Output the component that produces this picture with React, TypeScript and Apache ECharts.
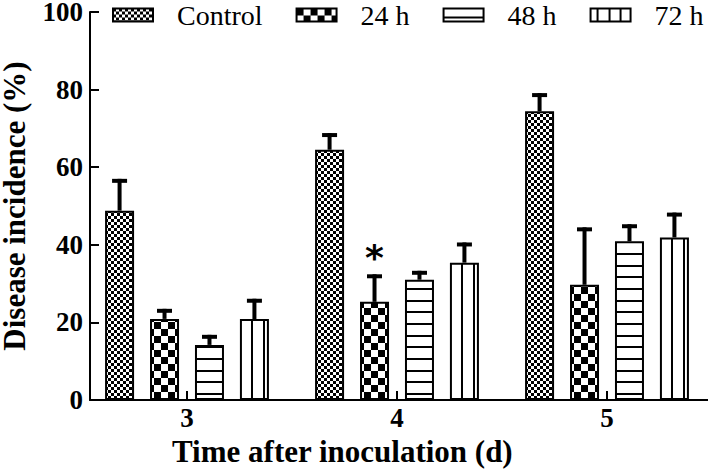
import React, { useEffect, useRef } from 'react';
import * as echarts from 'echarts';

const categories = ['3', '4', '5'];
const seriesNames = ['Control', '24 h', '48 h', '72 h'];
const controlMean = [48.8, 64.5, 74.4];
const controlSD = [8.2, 4.3, 4.7];
const h24Mean = [20.9, 25.3, 29.7];
const h24SD = [2.6, 7.1, 14.8];
const h48Mean = [14.2, 31.0, 40.9];
const h48SD = [2.6, 2.3, 4.4];
const h72Mean = [20.9, 35.4, 41.9];
const h72SD = [5.2, 5.2, 6.4];
const h24Sig = ['', '*', ''];
const yTicks = { min: 0, max: 100, interval: 20 };
const xTitle = 'Time after inoculation (d)';
const yTitle = 'Disease incidence (%)';

const FONT = '"Liberation Serif", "Times New Roman", serif';
const BAR_W = 29;
const GAP_RATIO = 0.55;

function makePattern(w: number, h: number, draw: (ctx: CanvasRenderingContext2D) => void) {
  const c = document.createElement('canvas');
  c.width = w;
  c.height = h;
  const ctx = c.getContext('2d')!;
  ctx.fillStyle = '#ffffff';
  ctx.fillRect(0, 0, w, h);
  ctx.fillStyle = '#000000';
  draw(ctx);
  return { image: c, repeat: 'repeat', imageWidth: w, imageHeight: h } as any;
}

export default function App() {
  const ref = useRef<HTMLDivElement>(null);
  useEffect(() => {
    if (!ref.current) return;
    const chart = echarts.init(ref.current, undefined, { renderer: 'svg' });

    const patterns = [
      makePattern(6, 6, (c) => { c.fillRect(0, 0, 3, 3); c.fillRect(3, 3, 3, 3); }),
      makePattern(14, 14, (c) => { c.fillRect(0, 0, 7, 7); c.fillRect(7, 7, 7, 7); }),
      makePattern(4, 35, (c) => { c.fillRect(0, 8, 4, 2); c.fillRect(0, 20, 4, 2); c.fillRect(0, 31, 4, 2); }),
      makePattern(35, 4, (c) => { c.fillRect(6, 0, 2, 4); c.fillRect(18, 0, 2, 4); c.fillRect(29, 0, 2, 4); }),
    ];
    const means = [controlMean, h24Mean, h48Mean, h72Mean];
    const sds = [controlSD, h24SD, h48SD, h72SD];
    const sigs = [['', '', ''], h24Sig, ['', '', ''], ['', '', '']];

    const records: { k: number; i: number; m: number; sd: number; sig: string }[] = [];
    means.forEach((arr, k) => arr.forEach((m, i) => records.push({ k, i, m, sd: sds[k][i], sig: sigs[k][i] })));

    const barSeries = seriesNames.map((name, k) => ({
      name,
      type: 'bar',
      xAxisIndex: 0,
      yAxisIndex: 0,
      barWidth: BAR_W,
      barGap: GAP_RATIO * 100 + '%',
      data: means[k],
      itemStyle: { color: patterns[k], borderColor: '#000', borderWidth: 2 },
      z: 2,
    }));

    const step = BAR_W * (1 + GAP_RATIO);

    const option: any = {
      animation: false,
      backgroundColor: '#ffffff',
      textStyle: { fontFamily: FONT, color: '#000' },
      title: {
        text: xTitle,
        left: 172,
        top: 434,
        padding: 0,
        textStyle: { fontFamily: FONT, fontWeight: 'bold', fontSize: 31, lineHeight: 34, color: '#000' },
      },
      legend: {
        data: seriesNames,
        left: 112,
        top: 1,
        padding: 0,
        icon: 'rect',
        itemWidth: 40,
        itemHeight: 13,
        itemGap: 33,
        textStyle: { fontFamily: FONT, fontSize: 28, lineHeight: 18, color: '#000', padding: [0, 0, 0, 19] },
      },
      grid: [
        { left: 82, width: 630, top: 12, height: 388, outerBoundsMode: 'none', containLabel: false },
        { left: 90, right: 0, top: 12, height: 388, outerBoundsMode: 'none', containLabel: false },
      ],
      xAxis: [
        {
          type: 'category',
          gridIndex: 0,
          data: categories,
          axisLine: { show: false },
          axisTick: { show: true, alignWithLabel: true, inside: true, length: 9, lineStyle: { width: 2, color: '#000' } },
          axisLabel: { margin: 7, fontFamily: FONT, fontWeight: 'bold', fontSize: 27, lineHeight: 22, color: '#000' },
          splitLine: { show: false },
        },
        {
          type: 'value',
          gridIndex: 1,
          min: 0,
          max: 1,
          axisLine: { show: true, lineStyle: { width: 2, color: '#000' } },
          axisTick: { show: false },
          axisLabel: { show: false },
          splitLine: { show: false },
        },
      ],
      yAxis: [
        {
          type: 'value',
          gridIndex: 0,
          min: yTicks.min,
          max: yTicks.max,
          interval: yTicks.interval,
          offset: -8,
          name: yTitle,
          nameLocation: 'middle',
          nameRotate: 90,
          nameGap: 63,
          nameTextStyle: { fontFamily: FONT, fontWeight: 'bold', fontSize: 31, lineHeight: 26, color: '#000' },
          axisLine: { show: true, lineStyle: { width: 2, color: '#000' } },
          axisTick: { show: true, inside: true, length: 9, lineStyle: { width: 2, color: '#000' } },
          axisLabel: { margin: 7, fontFamily: FONT, fontWeight: 'bold', fontSize: 27, lineHeight: 18, color: '#000' },
          splitLine: { show: false },
        },
        { type: 'value', gridIndex: 1, show: false, min: 0, max: 100 },
      ],
      series: [
        ...barSeries,
        {
          type: 'custom',
          name: 'errors',
          xAxisIndex: 0,
          yAxisIndex: 0,
          z: 5,
          silent: true,
          data: records.map((r) => [r.i, r.m, r.sd]),
          renderItem: (params: any, api: any) => {
            const r = records[params.dataIndex];
            const base = api.coord([r.i, r.m]);
            const top = api.coord([r.i, r.m + r.sd]);
            const cx = base[0] + (r.k - 1.5) * step;
            const children: any[] = [
              { type: 'rect', shape: { x: cx - 2, y: top[1], width: 4, height: base[1] - top[1] }, style: { fill: '#000' } },
              { type: 'rect', shape: { x: cx - 7.5, y: top[1], width: 15, height: 4 }, style: { fill: '#000' } },
            ];
            if (r.sig) {
              children.push({
                type: 'text',
                style: {
                  text: r.sig,
                  x: cx,
                  y: top[1] - 17,
                  align: 'center',
                  verticalAlign: 'middle',
                  font: 'bold 36px "DejaVu Sans"',
                  fill: '#000',
                },
              });
            }
            return { type: 'group', children };
          },
        },
      ],
    };
    chart.setOption(option);
    return () => chart.dispose();
  }, []);
  return <div ref={ref} style={{ position: 'absolute', left: 0, top: 0, width: 708, height: 475 }} />;
}
